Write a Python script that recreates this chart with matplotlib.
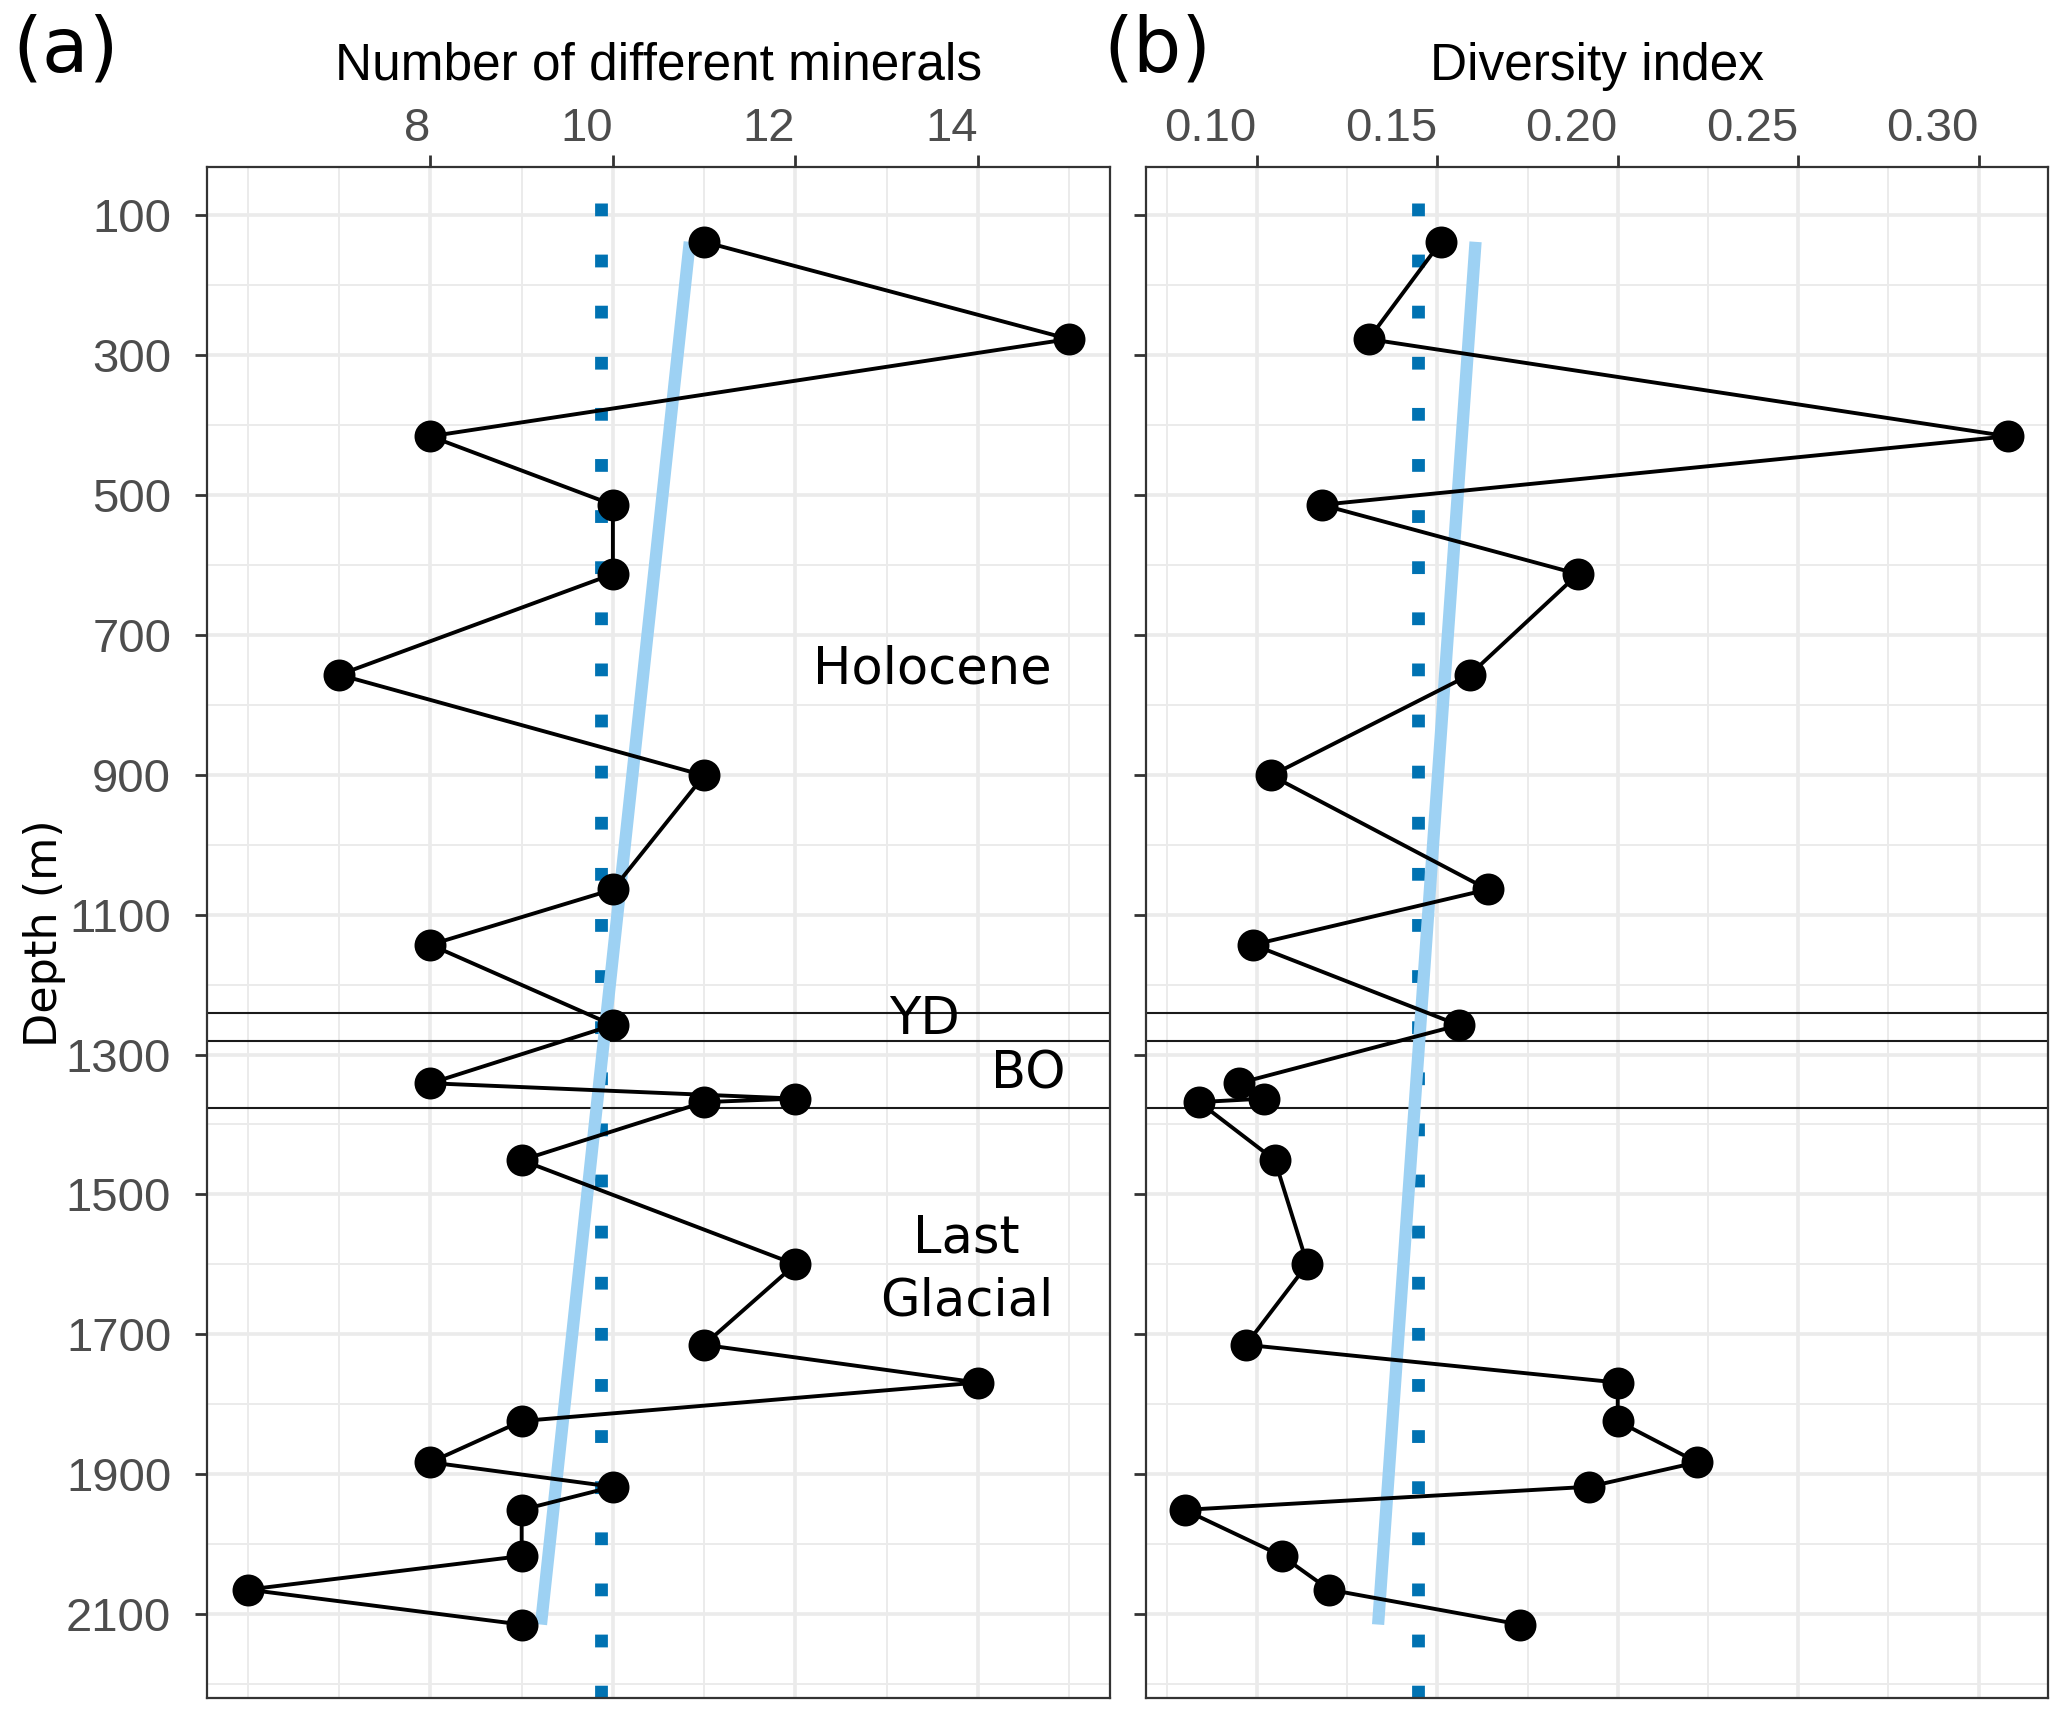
import numpy as np
import matplotlib.pyplot as plt

# profundidad de cada muestra (m) y sus dos medidas
depth = [138, 277, 416, 514, 613, 757, 901, 1064, 1143, 1258, 1341, 1363,
         1368, 1451, 1600, 1715, 1769, 1824, 1883, 1918, 1951, 2017, 2065, 2115]
n_minerals = [11, 15, 8, 10, 10, 7, 11, 10, 8, 10, 8, 12,
              11, 9, 12, 11, 14, 9, 8, 10, 9, 9, 6, 9]
diversity = [0.151, 0.131, 0.308, 0.118, 0.189, 0.159, 0.104, 0.164, 0.099, 0.156,
             0.095, 0.102, 0.084, 0.105, 0.114, 0.097, 0.200, 0.200, 0.222, 0.192,
             0.080, 0.107, 0.120, 0.173]

# limites de periodos climaticos
boundaries = [1241, 1281, 1376]
period_names = ["Holocene", "YD", "BO", "Last\nGlacial"]
period_x = [13.5, 13.42, 14.55, 13.88]
period_y = [749, 1251, 1329, 1608]

x_major_a = [8, 10, 12, 14]
x_minor_a = [6, 7, 9, 11, 13, 15]
x_major_b = [0.10, 0.15, 0.20, 0.25, 0.30]
x_minor_b = [0.075, 0.125, 0.175, 0.225, 0.275]
y_major = list(range(100, 2101, 200))
y_minor = list(range(200, 2201, 200))

W, H = 2067, 1718
fig = plt.figure(figsize=(W / 200, H / 200), dpi=200)

tick_font = {"family": "Liberation Sans", "size": 17, "color": "#4D4D4D"}


def panel(rect, values, xlim, x_major, x_minor, xlabels, title, show_y):
    ax = fig.add_axes(rect)
    depth_arr = np.array(depth, dtype=float)
    vals = np.array(values, dtype=float)

    ax.set_xlim(*xlim)
    ax.set_ylim(2220, 31)

    # rejilla estilo theme_bw
    ax.set_xticks(x_major)
    ax.set_xticks(x_minor, minor=True)
    ax.set_yticks(y_major)
    ax.set_yticks(y_minor, minor=True)
    ax.grid(which="major", color="#EBEBEB", linewidth=1.3, zorder=0)
    ax.grid(which="minor", color="#EBEBEB", linewidth=0.7, zorder=0)
    ax.set_axisbelow(True)

    # etiquetas de arriba alineadas a la derecha de la marca
    ax.xaxis.tick_top()
    ax.set_xticklabels(xlabels, fontdict=tick_font, ha="right")
    ax.tick_params(axis="x", which="major", length=4.3, width=1.0, color="#333333", pad=1.5)
    ax.tick_params(axis="y", which="major", length=4.3, width=1.0, color="#333333", pad=8.6)
    ax.tick_params(which="minor", length=0)
    if show_y:
        ax.set_yticklabels([str(v) for v in y_major], fontdict=tick_font)
    else:
        ax.tick_params(axis="y", labelleft=False)

    for sp in ax.spines.values():
        sp.set_color("#333333")
        sp.set_linewidth(0.8)

    # media (punteada) y ajuste lineal
    ax.axvline(vals.mean(), color="#0072B2", linewidth=4.6, linestyle=(0, (1, 3)),
               dash_capstyle="butt", zorder=2)
    for b in boundaries:
        ax.axhline(b, color="#1A1A1A", linewidth=0.75, zorder=2)
    slope, icpt = np.polyfit(depth_arr, vals, 1)
    yy = np.array([depth_arr.min(), depth_arr.max()])
    ax.plot(slope * yy + icpt, yy, color="#9DD1F3", linewidth=4.4,
            solid_capstyle="butt", zorder=3)

    ax.plot(vals, depth_arr, color="black", linewidth=1.4, zorder=4)
    ax.plot(vals, depth_arr, "o", color="black", markersize=10.5, zorder=5)

    cx = rect[0] + rect[2] / 2
    fig.text(cx, 1 - 80 / H, title, ha="center", va="baseline",
             fontsize=18.5, family="Liberation Sans", color="black")
    return ax


bottom = 1 - 1698 / H
height = (1698 - 167) / H
ax_a = panel([207 / W, bottom, (1110 - 207) / W, height], n_minerals, (5.55, 15.45),
             x_major_a, x_minor_a, [str(v) for v in x_major_a],
             "Number of different minerals", True)
ax_b = panel([1146 / W, bottom, (2048 - 1146) / W, height], diversity, (0.0693, 0.3192),
             x_major_b, x_minor_b, [f"{v:.2f}" for v in x_major_b],
             "Diversity index", False)

for name, x, y in zip(period_names, period_x, period_y):
    ax_a.text(x, y, name, ha="center", va="center", fontsize=18.4,
              family="DejaVu Sans", linespacing=1.35, zorder=6)

fig.text(66 / W, 1 - 50 / H, "(a)", ha="center", va="center", fontsize=27.5, family="DejaVu Sans")
fig.text(1157 / W, 1 - 50 / H, "(b)", ha="center", va="center", fontsize=27.5, family="DejaVu Sans")
fig.text(44 / W, 1 - 933 / H, "Depth (m)", ha="center", va="center", rotation=90,
         fontsize=16, family="DejaVu Sans")

fig.savefig("out.png", dpi=200, facecolor="white")
